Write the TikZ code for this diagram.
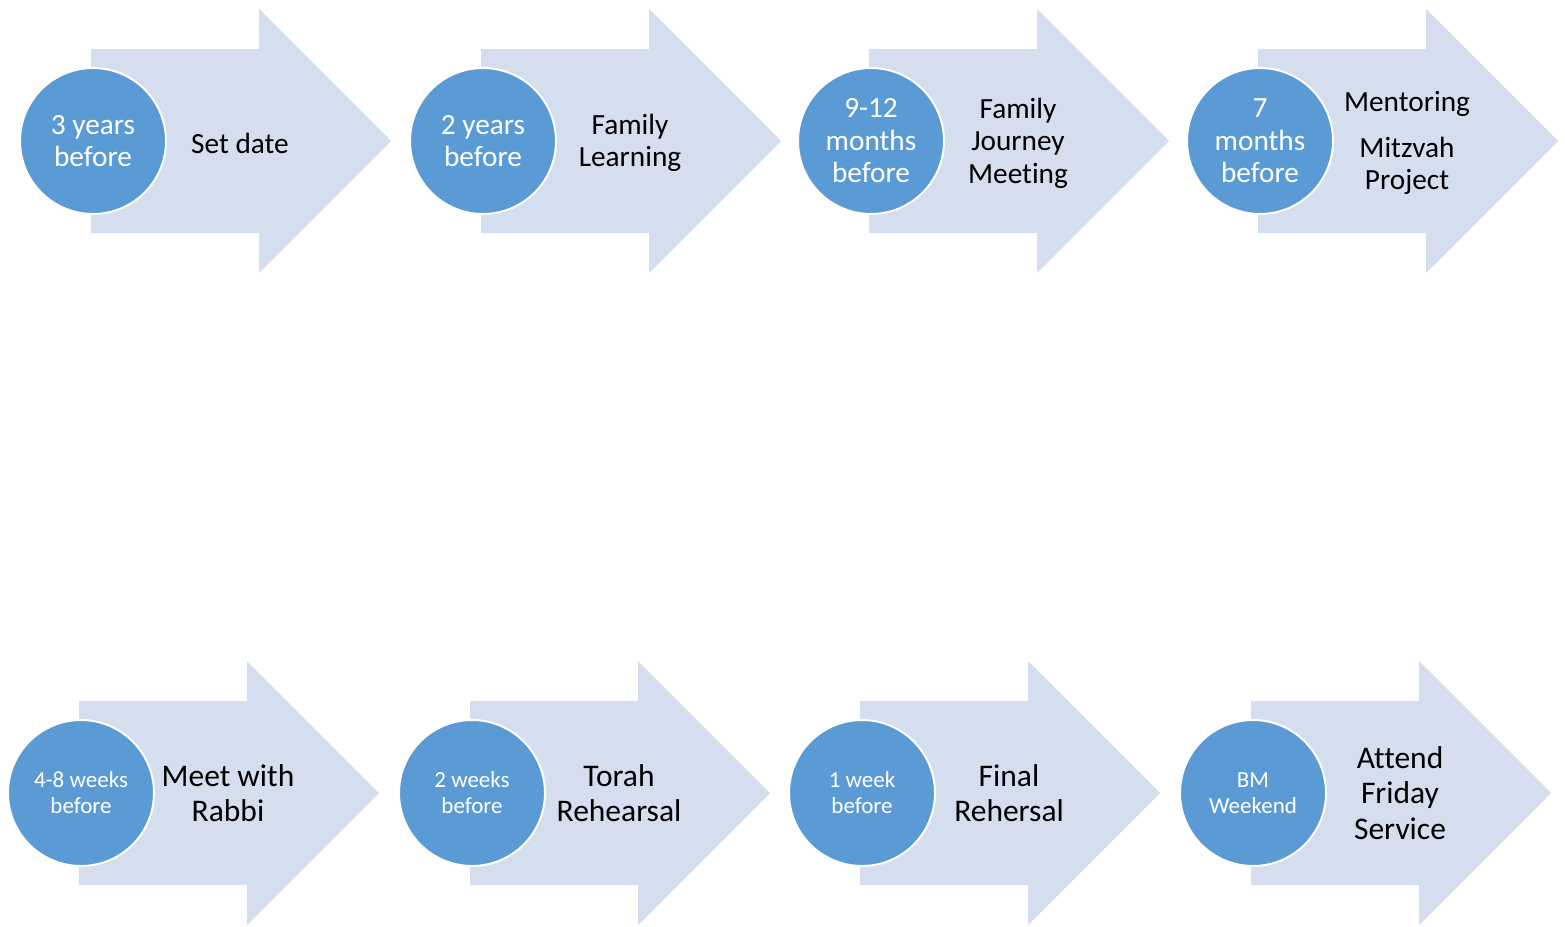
\documentclass[tikz,border=0pt]{standalone}
\usepackage{fontspec}
\setmainfont[Ligatures=NoCommon]{Carlito}
\definecolor{arrowfill}{HTML}{D4DEEF}
\definecolor{circfill}{HTML}{5B9BD5}
\tikzset{
  arrowshape/.style={fill=arrowfill, draw=none},
  stagecircle/.style={circle, fill=circfill, draw=white, line width=2pt, minimum size=146pt, inner sep=0pt, text=white, align=center},
  bigcirc/.style={font=\fontsize{29.3}{32.5}\selectfont},
  smallcirc/.style={font=\fontsize{23}{26}\selectfont},
  toplabel/.style={align=center, text=black, font=\fontsize{29.3}{32.5}\selectfont},
  botlabel/.style={align=center, text=black, yshift=2pt, font=\fontsize{31.5}{35.5}\selectfont},
}
% #1 name, #2 shaft x, #3 centre y, #4 circle style, #5 circle text, #6 label style, #7 label text
\newcommand{\mkarrow}[7]{%
  \fill[arrowshape] (#2,#3-92) -- (#2+168,#3-92) -- (#2+168,#3-132) -- (#2+300,#3)
     -- (#2+168,#3+132) -- (#2+168,#3+92) -- (#2,#3+92) -- cycle;
  \node[stagecircle,#4] (#1c) at (#2+2,#3) {#5};
  \node[#6] (#1t) at (#2+149,#3+2) {#7};
}
\begin{document}
\begin{tikzpicture}[x=1pt,y=-1pt]
\useasboundingbox (0,0) rectangle (1565,926);
\fill[white] (0,0) rectangle (1565,926);
\mkarrow{a1}{91}{141}{bigcirc}{3 years\\before}{toplabel}{Set date}
\mkarrow{a2}{481}{141}{bigcirc}{2 years\\before}{toplabel}{Family\\Learning}
\mkarrow{a3}{869}{141}{bigcirc}{9-12\\months\\before}{toplabel}{Family\\Journey\\Meeting}
\mkarrow{a4}{1258}{141}{bigcirc}{7\\months\\before}{toplabel}{Mentoring\\[13pt]Mitzvah\\Project}
\mkarrow{b1}{79}{793}{smallcirc}{4-8 weeks\\before}{botlabel}{Meet with\\Rabbi}
\mkarrow{b2}{470}{793}{smallcirc}{2 weeks\\before}{botlabel}{Torah\\Rehearsal}
\mkarrow{b3}{860}{793}{smallcirc}{1 week\\before}{botlabel}{Final\\Rehersal}
\mkarrow{b4}{1251}{793}{smallcirc}{BM\\Weekend}{botlabel}{Attend\\Friday\\Service}
\end{tikzpicture}
\end{document}
